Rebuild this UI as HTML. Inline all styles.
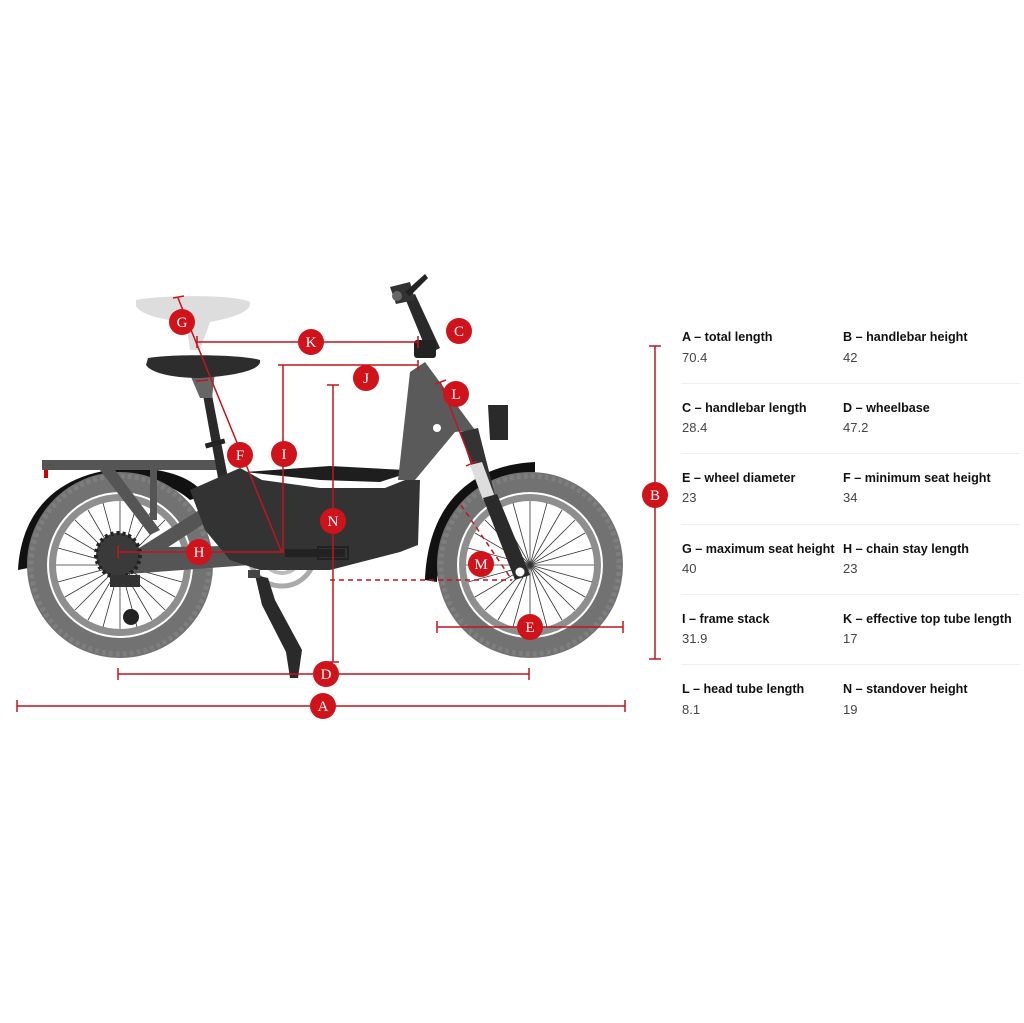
<!DOCTYPE html>
<html><head><meta charset="utf-8"><style>
html,body{margin:0;padding:0;background:#fff;width:1024px;height:1023px;overflow:hidden}
svg{position:absolute;left:0;top:0}
.t{position:absolute;font-family:"Liberation Sans",sans-serif;font-size:12.6px;color:#111;font-weight:600;white-space:nowrap}
.v{position:absolute;font-family:"Liberation Sans",sans-serif;font-size:13px;color:#444;white-space:nowrap}
.sep{position:absolute;height:1px;background:#eee;left:681px;width:339px}
</style></head><body>
<svg width="1024" height="1023" viewBox="0 0 1024 1023">
<defs>
<g id="wheel">
 <circle r="93" fill="#727272"/>
 <circle r="89" fill="none" stroke="#7e7e7e" stroke-width="5" stroke-dasharray="4 3"/>
 <circle r="73" fill="#fff"/>
 <circle r="71" fill="#8e8e8e"/>
 <circle r="64" fill="#fff"/>
 <g stroke="#333" stroke-width="0.8">
  <line x1="-64" y1="0" x2="64" y2="0"/><line x1="0" y1="-64" x2="0" y2="64"/>
  <line x1="-55" y1="-32" x2="55" y2="32"/><line x1="-55" y1="32" x2="55" y2="-32"/>
  <line x1="-32" y1="-55" x2="32" y2="55"/><line x1="-32" y1="55" x2="32" y2="-55"/>
  <line x1="-62" y1="-17" x2="62" y2="17"/><line x1="-62" y1="17" x2="62" y2="-17"/>
  <line x1="-17" y1="-62" x2="17" y2="62"/><line x1="-17" y1="62" x2="17" y2="-62"/>
  <line x1="-45" y1="-45" x2="45" y2="45"/><line x1="-45" y1="45" x2="45" y2="-45"/>
 </g>
</g>
<g id="b"><circle r="13" fill="#d0121b"/></g>
</defs>
<path d="M18,570 C22,500 70,470 130,468 C170,468 195,480 205,495 L190,500 C170,482 140,478 120,478 C70,480 32,515 28,568 Z" fill="#111"/>
<path d="M425,580 C428,505 470,465 535,462 L535,472 C480,476 442,510 437,582 Z" fill="#111"/>
<use href="#wheel" x="120" y="565"/>
<use href="#wheel" x="530" y="565"/>
<rect x="42" y="460" width="175" height="10" fill="#555"/>
<rect x="44" y="470" width="4" height="8" fill="#c00"/>
<path d="M100,470 L150,535 L160,530 L115,470 Z" fill="#555"/>
<rect x="150" y="470" width="7" height="50" fill="#555"/>
<path d="M112,548 L285,545 L290,562 L115,575 Z" fill="#555"/>
<path d="M120,560 L215,500 L225,510 L130,572 Z" fill="#555"/>
<circle cx="118" cy="555" r="22" fill="#3a3a3a"/>
<circle cx="118" cy="555" r="22" fill="none" stroke="#222" stroke-width="4" stroke-dasharray="3 3"/>
<rect x="110" y="575" width="30" height="12" fill="#333"/>
<circle cx="131" cy="617" r="8" fill="#222"/>
<circle cx="282" cy="553" r="33" fill="none" stroke="#aaa" stroke-width="5"/>
<circle cx="282" cy="553" r="20" fill="none" stroke="#bbb" stroke-width="4"/>
<path d="M203,395 L212,395 L228,478 L218,478 Z" fill="#2a2a2a"/>
<rect x="205" y="441" width="20" height="5" fill="#222" transform="rotate(-15 215 443)"/>
<path d="M188,370 L215,372 L212,398 L200,398 Z" fill="#666"/>
<path d="M148,358 C170,354 240,354 260,360 C262,368 245,375 200,378 C170,378 150,372 146,365 Z" fill="#2d2d2d"/>
<path d="M136,300 C160,295 235,294 250,302 C252,312 232,318 210,322 L200,350 L190,350 L186,322 C160,320 140,314 136,306 Z" fill="#ddd"/>
<path d="M190,490 L240,468 L262,480 L320,488 L385,488 L405,480 L420,480 L418,545 L400,552 L330,570 L260,570 L230,560 L205,530 Z" fill="#333"/>
<path d="M245,472 L320,480 L380,482 L402,475 L405,470 L330,466 Z" fill="#1e1e1e"/>
<path d="M398,480 L410,372 L425,362 L475,430 L455,432 L415,480 Z" fill="#5a5a5a"/>
<circle cx="437" cy="428" r="4" fill="#fff"/>
<path d="M460,432 L478,428 L495,495 L482,498 Z" fill="#333"/>
<path d="M470,465 L482,462 L495,497 L483,500 Z" fill="#ddd"/>
<path d="M483,498 L497,494 L530,575 L515,580 Z" fill="#2a2a2a"/>
<circle cx="520" cy="572" r="5" fill="#fff" stroke="#333"/>
<path d="M488,405 L508,405 L508,440 L490,440 Z" fill="#2a2a2a"/>
<path d="M405,298 L415,294 L440,348 L428,354 Z" fill="#2a2a2a"/>
<rect x="414" y="340" width="22" height="18" fill="#222" rx="3"/>
<path d="M390,287 L410,282 L415,300 L396,304 Z" fill="#333"/>
<circle cx="397" cy="296" r="5" fill="#666"/>
<path d="M405,292 L425,274 L428,278 L410,296 Z" fill="#222"/>
<path d="M255,575 L268,578 L275,600 L302,650 L298,678 L290,678 L286,652 L262,605 Z" fill="#2a2a2a"/>
<rect x="248" y="570" width="12" height="8" fill="#444"/>
<rect x="285" y="549" width="60" height="8" fill="#222"/>
<rect x="318" y="547" width="30" height="12" fill="none" stroke="#222" stroke-width="2"/>
<g stroke="#c4141c" stroke-width="1.5" fill="none">
 <line x1="17" y1="706" x2="625" y2="706"/><line x1="17" y1="700" x2="17" y2="712"/><line x1="625" y1="700" x2="625" y2="712"/>
 <line x1="118" y1="674" x2="529" y2="674"/><line x1="118" y1="668" x2="118" y2="680"/><line x1="529" y1="668" x2="529" y2="680"/>
 <line x1="437" y1="627" x2="623" y2="627"/><line x1="437" y1="621" x2="437" y2="633"/><line x1="623" y1="621" x2="623" y2="633"/>
 <line x1="333" y1="385" x2="333" y2="662"/><line x1="327" y1="385" x2="339" y2="385"/><line x1="327" y1="662" x2="339" y2="662"/>
 <line x1="283" y1="365" x2="283" y2="553"/><line x1="278" y1="365" x2="418" y2="365"/><line x1="418" y1="360" x2="418" y2="370"/>
 <line x1="197" y1="342" x2="418" y2="342"/><line x1="418" y1="336" x2="418" y2="348"/>
 <line x1="118" y1="552" x2="283" y2="552"/><line x1="118" y1="546" x2="118" y2="558"/>
 <line x1="178" y1="298" x2="282" y2="553"/><line x1="173" y1="298" x2="184" y2="296"/><line x1="197" y1="336" x2="197" y2="348"/><line x1="196" y1="381" x2="208" y2="380"/>
 <line x1="440" y1="382" x2="472" y2="463"/><line x1="435" y1="384" x2="446" y2="380"/><line x1="466" y1="466" x2="477" y2="461"/>
 <line x1="655" y1="346" x2="655" y2="659"/><line x1="649" y1="346" x2="661" y2="346"/><line x1="649" y1="659" x2="661" y2="659"/>
 <line x1="461" y1="505" x2="512" y2="580" stroke-dasharray="5 4"/>
 <line x1="330" y1="580" x2="512" y2="580" stroke-dasharray="5 4"/>
</g>
<g font-family="Liberation Serif,serif" font-size="15" fill="#fff" text-anchor="middle">
 <use href="#b" x="182" y="322"/><text x="182" y="327">G</text>
 <use href="#b" x="311" y="342"/><text x="311" y="347">K</text>
 <use href="#b" x="459" y="331"/><text x="459" y="336">C</text>
 <use href="#b" x="366" y="378"/><text x="366" y="383">J</text>
 <use href="#b" x="456" y="394"/><text x="456" y="399">L</text>
 <use href="#b" x="240" y="455"/><text x="240" y="460">F</text>
 <use href="#b" x="284" y="454"/><text x="284" y="459">I</text>
 <use href="#b" x="333" y="521"/><text x="333" y="526">N</text>
 <use href="#b" x="199" y="552"/><text x="199" y="557">H</text>
 <use href="#b" x="481" y="564"/><text x="481" y="569">M</text>
 <use href="#b" x="530" y="627"/><text x="530" y="632">E</text>
 <use href="#b" x="326" y="674"/><text x="326" y="679">D</text>
 <use href="#b" x="323" y="706"/><text x="323" y="711">A</text>
 <use href="#b" x="655" y="495"/><text x="655" y="500">B</text>
</g>
</svg>
<div class="t" style="left:682px;top:330px">A – total length</div><div class="v" style="left:682px;top:350px">70.4</div>
<div class="t" style="left:843px;top:330px">B – handlebar height</div><div class="v" style="left:843px;top:350px">42</div>
<div class="sep" style="top:383px"></div>
<div class="t" style="left:682px;top:401px">C – handlebar length</div><div class="v" style="left:682px;top:420px">28.4</div>
<div class="t" style="left:843px;top:401px">D – wheelbase</div><div class="v" style="left:843px;top:420px">47.2</div>
<div class="sep" style="top:453px"></div>
<div class="t" style="left:682px;top:471px">E – wheel diameter</div><div class="v" style="left:682px;top:490px">23</div>
<div class="t" style="left:843px;top:471px">F – minimum seat height</div><div class="v" style="left:843px;top:490px">34</div>
<div class="sep" style="top:524px"></div>
<div class="t" style="left:682px;top:542px">G – maximum seat height</div><div class="v" style="left:682px;top:561px">40</div>
<div class="t" style="left:843px;top:542px">H – chain stay length</div><div class="v" style="left:843px;top:561px">23</div>
<div class="sep" style="top:594px"></div>
<div class="t" style="left:682px;top:612px">I – frame stack</div><div class="v" style="left:682px;top:631px">31.9</div>
<div class="t" style="left:843px;top:612px">K – effective top tube length</div><div class="v" style="left:843px;top:631px">17</div>
<div class="sep" style="top:664px"></div>
<div class="t" style="left:682px;top:682px">L – head tube length</div><div class="v" style="left:682px;top:702px">8.1</div>
<div class="t" style="left:843px;top:682px">N – standover height</div><div class="v" style="left:843px;top:702px">19</div>
</body></html>
